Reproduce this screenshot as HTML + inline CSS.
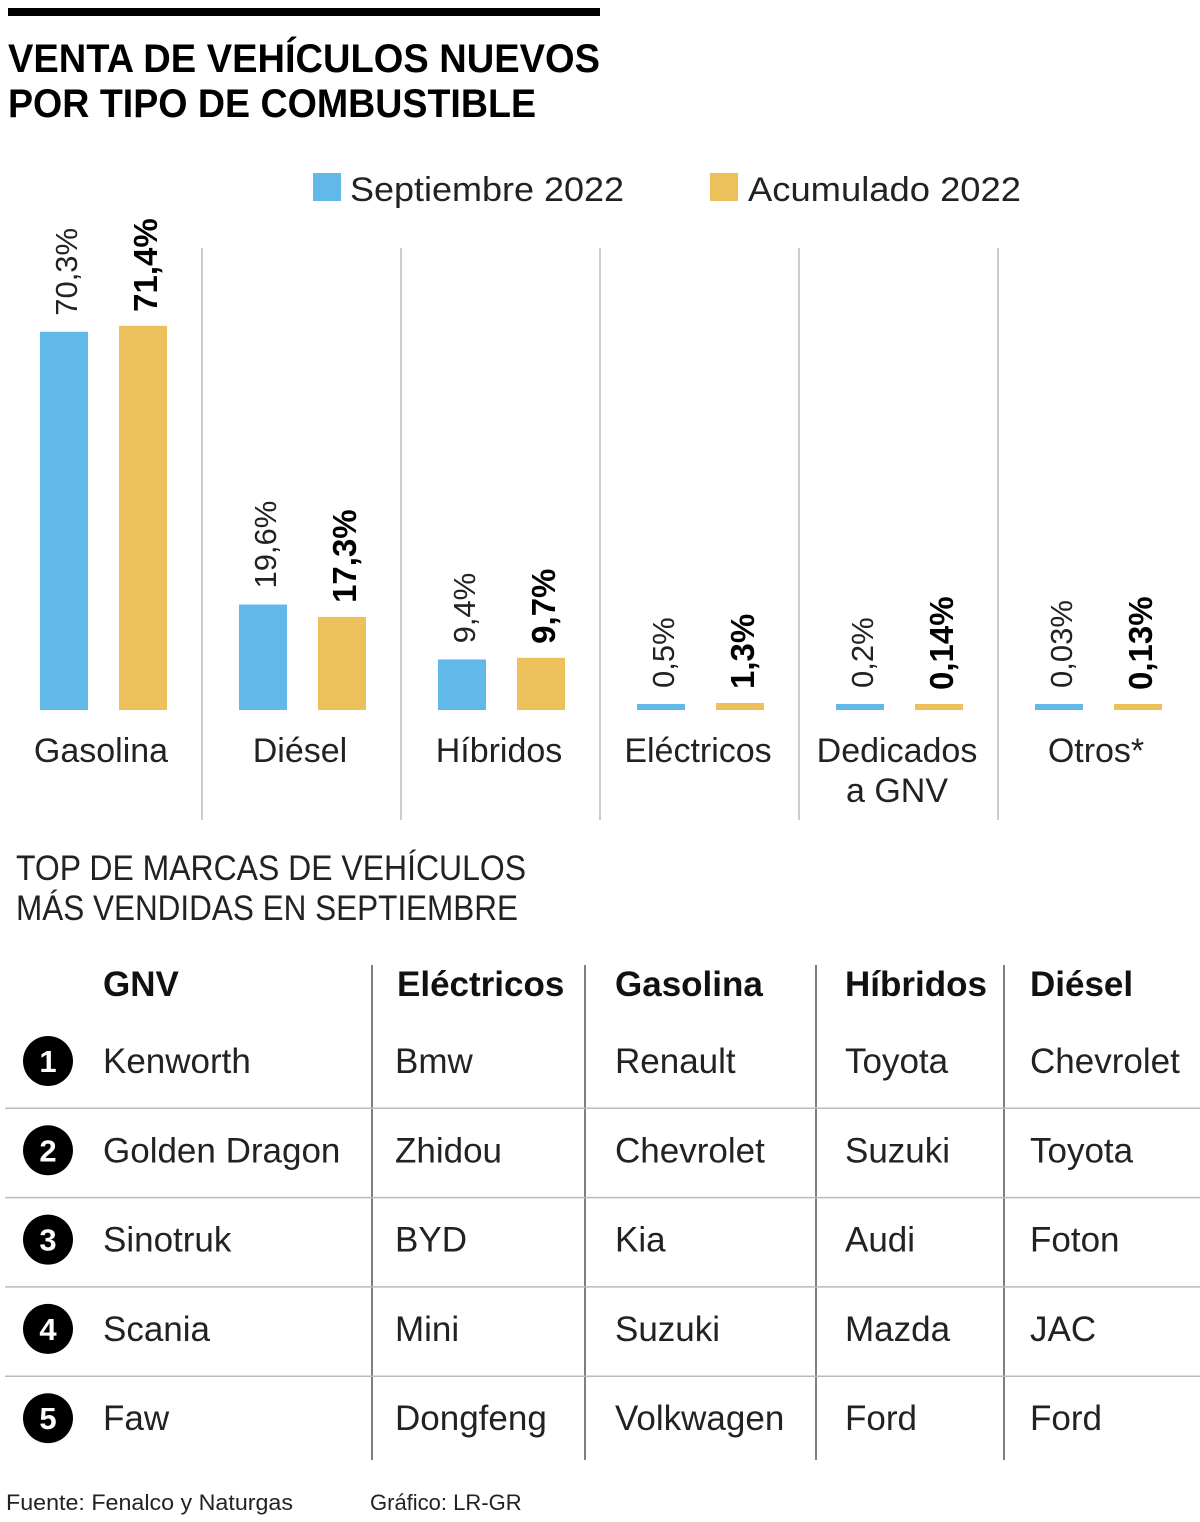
<!DOCTYPE html>
<html><head><meta charset="utf-8"><style>
body{margin:0;background:#fff;}
svg text{font-family:"Liberation Sans",sans-serif;}
</style></head><body>
<svg width="1200" height="1517" viewBox="0 0 1200 1517" xmlns="http://www.w3.org/2000/svg">
<rect x="8" y="8" width="592" height="8" fill="#000"/>
<text x="8" y="72" font-size="40" font-weight="bold" textLength="592" lengthAdjust="spacingAndGlyphs">VENTA DE VEHÍCULOS NUEVOS</text>
<text x="8" y="117" font-size="40" font-weight="bold" textLength="528" lengthAdjust="spacingAndGlyphs">POR TIPO DE COMBUSTIBLE</text>
<g>
<rect x="313" y="173" width="28" height="28" fill="#62b8e8"/>
<text x="350" y="201" font-size="34" fill="#222" textLength="274" lengthAdjust="spacingAndGlyphs">Septiembre 2022</text>
<rect x="710" y="173" width="28" height="28" fill="#ecc05a"/>
<text x="748" y="201" font-size="34" fill="#222" textLength="273" lengthAdjust="spacingAndGlyphs">Acumulado 2022</text>
</g>
<g id="chart"></g>
<text x="16" y="880" font-size="35" fill="#222" textLength="510" lengthAdjust="spacingAndGlyphs">TOP DE MARCAS DE VEHÍCULOS</text>
<text x="16" y="920" font-size="35" fill="#222" textLength="502" lengthAdjust="spacingAndGlyphs">MÁS VENDIDAS EN SEPTIEMBRE</text>
<g id="table"></g>
<text x="6" y="1510" font-size="22" fill="#222" textLength="287" lengthAdjust="spacingAndGlyphs">Fuente: Fenalco y Naturgas</text>
<text x="370" y="1510" font-size="22" fill="#222">Gráfico: LR-GR</text>
</svg>
<script>
const categories=[["Gasolina"],["Diésel"],["Híbridos"],["Eléctricos"],["Dedicados","a GNV"],["Otros*"]];
const sepValues=[70.3,19.6,9.4,0.5,0.2,0.03];
const acumValues=[71.4,17.3,9.7,1.3,0.14,0.13];
const sepLabels=["70,3%","19,6%","9,4%","0,5%","0,2%","0,03%"];
const acumLabels=["71,4%","17,3%","9,7%","1,3%","0,14%","0,13%"];
const headers=["GNV","Eléctricos","Gasolina","Híbridos","Diésel"];
const rows=[["Kenworth","Bmw","Renault","Toyota","Chevrolet"],["Golden Dragon","Zhidou","Chevrolet","Suzuki","Toyota"],["Sinotruk","BYD","Kia","Audi","Foton"],["Scania","Mini","Suzuki","Mazda","JAC"],["Faw","Dongfeng","Volkwagen","Ford","Ford"]];
const NS="http://www.w3.org/2000/svg";
function mk(tag,attrs,parent,txt){const e=document.createElementNS(NS,tag);for(const k in attrs)e.setAttribute(k,attrs[k]);if(txt!==undefined)e.textContent=txt;parent.appendChild(e);return e;}
const chart=document.getElementById('chart');
const base=710,scale=5.38,gw=199;
function h(v){return Math.max(6,v*scale);}
categories.forEach((c,i)=>{
  const gx=i*gw;
  if(i>0){const l=mk('line',{x1:gx+3,x2:gx+3,y1:248,y2:820,stroke:'#bbb','stroke-width':1.5},chart);
  
  }
  const bh=h(sepValues[i]);
  const b=mk('rect',{x:gx+40,y:base-bh,width:48,height:bh,fill:'#62b8e8'},chart);
  
  
  const oh=h(acumValues[i]);
  const o=mk('rect',{x:gx+119,y:base-oh,width:48,height:oh,fill:'#ecc05a'},chart);
  
  
  const ty=base-bh-16;
  const t=mk('text',{x:0,y:0,'font-size':31,fill:'#222',transform:`translate(${gx+77},${ty}) rotate(-90)`},chart,sepLabels[i]);
  
  
  const oy=base-oh-14;
  const t2=mk('text',{x:0,y:0,'font-size':33,'font-weight':'bold',fill:'#000',transform:`translate(${gx+157},${oy}) rotate(-90)`},chart,acumLabels[i]);
  
  
  c.forEach((line,j)=>{
    const ct=mk('text',{x:gx+101,y:762+j*40,'font-size':34,fill:'#222','text-anchor':'middle'},chart,line);
    
    
  });
});
const tb=document.getElementById('table');
const colX=[103,397,615,845,1030];
[372,585,816,1004].forEach(x=>{const l=mk('line',{x1:x,x2:x,y1:965,y2:1460,stroke:'#555','stroke-width':1.5},tb);

});
headers.forEach((hd,i)=>{const t=mk('text',{x:colX[i],y:996,'font-size':35,'font-weight':'bold',fill:'#111'},tb,hd);

});
rows.forEach((r,ri)=>{
  const cy=1061+ri*89.3;
  if(ri>0){const l=mk('line',{x1:5,x2:1200,y1:cy-42,y2:cy-42,stroke:'#bbb','stroke-width':1.5},tb);
  
  }
  const c=mk('circle',{cx:48,cy:cy,r:25,fill:'#000'},tb);
  
  
  const n=mk('text',{x:48,y:cy+11,'font-size':31,'font-weight':'bold',fill:'#fff','text-anchor':'middle'},tb,String(ri+1));
  
  
  r.forEach((v,ci)=>{const t=mk('text',{x:colX[ci]-(ci==1?2:0),y:cy+12,'font-size':35,fill:'#222'},tb,v);
  
  });
});
</script>
</body></html>
